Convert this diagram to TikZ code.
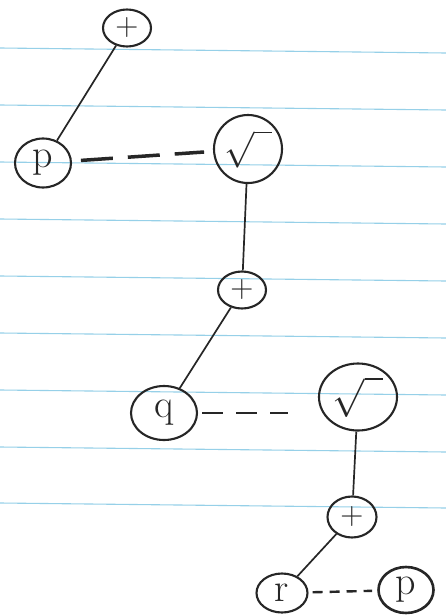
\documentclass[tikz,border=0pt]{standalone}
\usepackage{graphicx}
\usetikzlibrary{shapes.geometric}
\definecolor{ink}{RGB}{38,38,38}
\definecolor{paperblue}{RGB}{150,208,232}
\newcommand{\rootsign}[1]{\scalebox{#1}{$\sqrt{\vphantom{M}\hspace{0.3em}}$}}
\begin{document}
\begin{tikzpicture}[x=1pt,y=-1pt,
  ruled/.style={line width=1.1pt, draw=paperblue},
  vtx/.style={draw=ink, text=ink, ellipse, line width=2.1pt, inner sep=0pt},
  big/.style={font=\fontsize{40}{44}\selectfont},
  mid/.style={font=\fontsize{32}{36}\selectfont},
  edge/.style={draw=ink, line width=1.7pt},
  link/.style={draw=ink, line width=2pt}
]
% paper with ruled lines
\useasboundingbox[fill=white] (0,0) rectangle (446,616);
\foreach \y in {48,105,162,219,276,333,390,447,503}
  \draw[ruled] (0,\y) -- (446,\y+5);

% nodes of the tree
\node[vtx, mid, minimum width=48pt, minimum height=37pt] (plusA) at (127,28) {+};
\node[vtx, big, minimum width=56pt, minimum height=49pt] (pA)    at (43,163) {p};
\node[vtx, big, minimum width=68pt, minimum height=68pt] (sqrtA) at (248,149) {\rootsign{1.45}};
\node[vtx, mid, minimum width=48pt, minimum height=37pt] (plusB) at (242,290) {+};
\node[vtx, big, minimum width=66pt, minimum height=54pt] (q)     at (164,413) {q};
\node[vtx, big, minimum width=78pt, minimum height=67pt] (sqrtB) at (358,397) {\rootsign{1.55}};
\node[vtx, mid, minimum width=49pt, minimum height=41pt] (plusC) at (352,517) {+};
\node[vtx, big, minimum width=51pt, minimum height=39pt] (r)     at (282,593) {r};
\node[vtx, big, minimum width=55pt, minimum height=46pt, line width=2.6pt] (pB) at (406,590) {p};

% solid tree edges
\draw[edge] (plusA) -- (pA);
\draw[edge] (sqrtA) -- (plusB);
\draw[edge] (plusB) -- (q);
\draw[edge] (sqrtB) -- (plusC);
\draw[edge] (plusC) -- (r);

% dashed links
\draw[link, line width=3.5pt, dash pattern=on 32pt off 15pt,
      shorten <=9pt, shorten >=9pt] (pA) -- (sqrtA);
\draw[link, dash pattern=on 21pt off 13pt, shorten <=4pt, shorten >=30pt]
      (q.east) -- (q.east -| sqrtB.west);
\draw[link, line width=2.4pt, dash pattern=on 10pt off 7pt,
      shorten <=4pt, shorten >=5pt] (r) -- (pB);
\end{tikzpicture}
\end{document}
